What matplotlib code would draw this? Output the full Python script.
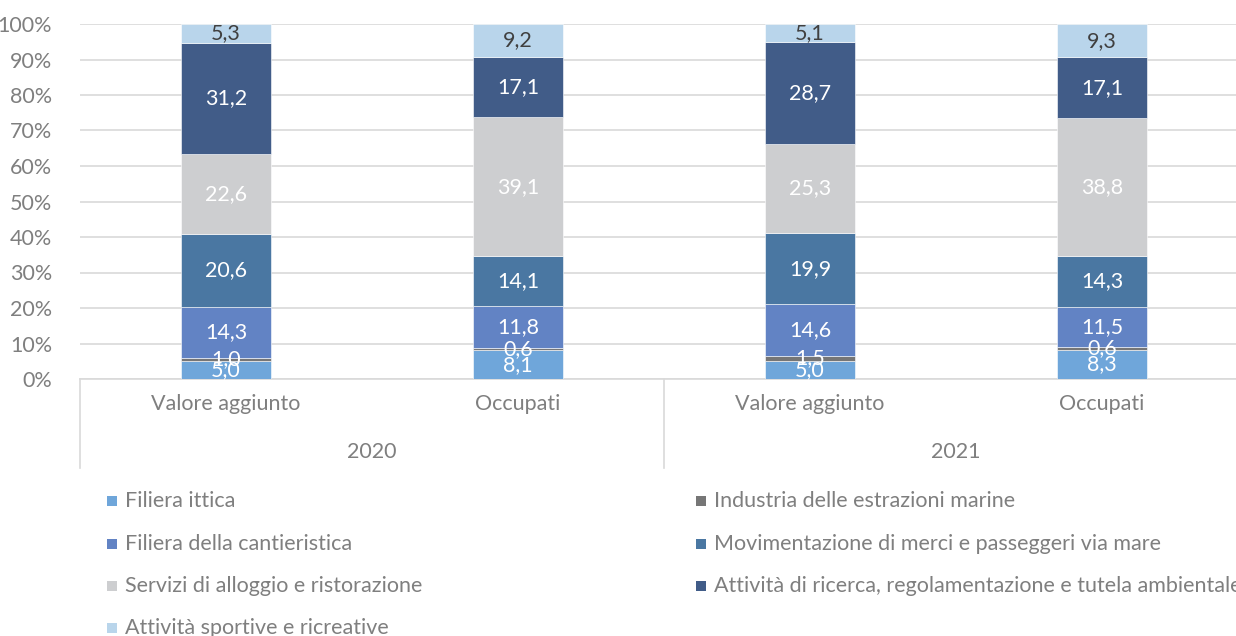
import matplotlib.pyplot as plt
from matplotlib.patches import Rectangle
import numpy as np

plt.rcParams['font.family'] = ['Lato', 'DejaVu Sans']

# data
categories = ["Valore aggiunto", "Occupati", "Valore aggiunto", "Occupati"]
years = ["2020", "2021"]
series = ["Filiera ittica",
          "Industria delle estrazioni marine",
          "Filiera della cantieristica",
          "Movimentazione di merci e passeggeri via mare",
          "Servizi di alloggio e ristorazione",
          "Attività di ricerca, regolamentazione e tutela ambientale",
          "Attività sportive e ricreative"]
ittica = [5.0, 8.1, 5.0, 8.3]
estrazioni = [1.0, 0.6, 1.5, 0.6]
cantieristica = [14.3, 11.8, 14.6, 11.5]
movimentazione = [20.6, 14.1, 19.9, 14.3]
servizi = [22.6, 39.1, 25.3, 38.8]
ricerca = [31.2, 17.1, 28.7, 17.1]
sportive = [5.3, 9.2, 5.1, 9.3]

colors = ['#6FA6DA', '#767676', '#6283C4', '#4A77A2', '#CDCED0', '#415C88', '#B9D5EB']
label_cols = ['white', 'white', 'white', 'white', 'white', 'white', '#404040']
txt = '#7F7F7F'
fs = 15.5

values = [ittica, estrazioni, cantieristica, movimentazione, servizi, ricerca, sportive]

W, H = 1236, 636
fig = plt.figure(figsize=(W/100, H/100), dpi=100)
# plot area continues past the right edge (cropped, as in the reference)
ax = fig.add_axes([80/W, 1-379/H, 1168/W, 355/H])

x = np.arange(len(categories))
bottom = np.zeros(len(categories))
for vals, c, lc in zip(values, colors, label_cols):
    vals = np.array(vals)
    ax.bar(x, vals, width=0.31, bottom=bottom, color=c, edgecolor='white', linewidth=0.4, zorder=3)
    for xi, b, v in zip(x, bottom, vals):
        ax.text(xi, b + v/2, f"{v:.1f}".replace('.', ','), ha='center', va='center',
                color=lc, fontsize=fs, zorder=4)
    bottom += vals

ax.set_xlim(-0.5, 3.5)
ax.set_ylim(0, 100)
ax.set_yticks(np.arange(0, 101, 10))
ax.set_yticklabels([f"{t}%" for t in range(0, 101, 10)])
ax.tick_params(axis='y', length=0, labelsize=fs, labelcolor=txt, pad=20)
ax.grid(axis='y', color='#D9D9D9', linewidth=1.2, zorder=0)
for s in ['top', 'right', 'left']:
    ax.spines[s].set_visible(False)
ax.spines['bottom'].set_color('#D9D9D9')
ax.spines['bottom'].set_linewidth(1.2)

ax.set_xticks(x)
ax.set_xticklabels(categories)
ax.tick_params(axis='x', length=0, labelsize=fs, labelcolor=txt, pad=11)

# year group labels and separators
tr = ax.get_xaxis_transform()
for i, yr in enumerate(years):
    ax.text(2*i + 0.5, -0.205, yr, transform=tr, ha='center', va='center', fontsize=fs, color=txt)
for xs in [-0.5, 1.5, 3.5]:
    ax.plot([xs, xs], [0, -0.25], transform=tr, color='#D9D9D9', linewidth=1.2, clip_on=False)

# legend, drawn manually in two columns
order = [0, 2, 4, 6, 1, 3, 5]
rows_y = [501, 544, 586, 628]
col_x = [107, 696]
for k, idx in enumerate(order):
    col = 0 if k < 4 else 1
    row = k if k < 4 else k - 4
    xm = col_x[col]
    ym = rows_y[row]
    fig.add_artist(Rectangle((xm/W, 1-(ym+5)/H), 10/W, 10/H, transform=fig.transFigure,
                             facecolor=colors[idx], edgecolor='none'))
    fig.text((xm+18)/W, 1-ym/H, series[idx], ha='left', va='center', fontsize=fs, color=txt)

plt.savefig('out.png', dpi=100)
